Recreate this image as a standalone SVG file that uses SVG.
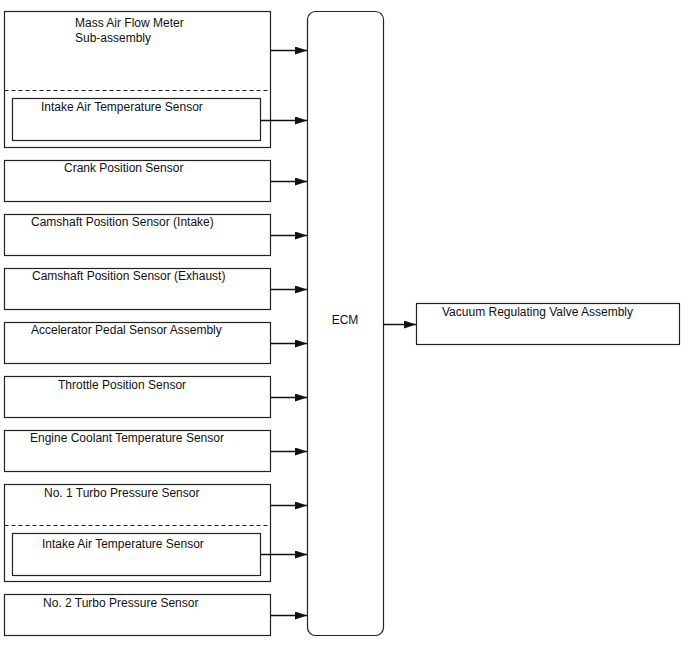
<svg xmlns="http://www.w3.org/2000/svg" width="688" height="658" viewBox="0 0 688 658">
<defs>
<style>
.box{fill:#fff;stroke:#222;stroke-width:1.2}
.dash{stroke:#222;stroke-width:1.2;stroke-dasharray:4,3;fill:none}
.t{font-family:"Liberation Sans",Arial,sans-serif;font-size:12px;fill:#111}
.c{stroke:#111;stroke-width:1.3;fill:none;marker-end:url(#ah)}
</style>
<marker id="ah" viewBox="0 0 12 8" refX="12" refY="4" markerWidth="12" markerHeight="8" markerUnits="userSpaceOnUse" orient="auto">
<path d="M0,0 L12,4 L0,8 z" fill="#111"/>
</marker>
</defs>
<rect width="688" height="658" fill="#fff"/>
<g id="maf">
<rect class="box" x="4.5" y="11.5" width="266" height="136"/>
<line class="dash" x1="4.5" y1="90.5" x2="270.5" y2="90.5"/>
<text class="t" x="75" y="27">Mass Air Flow Meter</text>
<text class="t" x="75" y="42">Sub-assembly</text>
</g>
<g id="iat1">
<rect class="box" x="12.5" y="98.5" width="248" height="42"/>
<text class="t" x="41" y="111">Intake Air Temperature Sensor</text>
</g>
<g id="crank">
<rect class="box" x="4.5" y="160.5" width="266" height="41"/>
<text class="t" x="64" y="172">Crank Position Sensor</text>
</g>
<g id="cam-in">
<rect class="box" x="4.5" y="214.5" width="266" height="41"/>
<text class="t" x="31" y="226">Camshaft Position Sensor (Intake)</text>
</g>
<g id="cam-ex">
<rect class="box" x="4.5" y="268.5" width="266" height="41"/>
<text class="t" x="32" y="280">Camshaft Position Sensor (Exhaust)</text>
</g>
<g id="accel">
<rect class="box" x="4.5" y="322.5" width="266" height="41"/>
<text class="t" x="31" y="334">Accelerator Pedal Sensor Assembly</text>
</g>
<g id="throttle">
<rect class="box" x="4.5" y="376.5" width="266" height="41"/>
<text class="t" x="58" y="389">Throttle Position Sensor</text>
</g>
<g id="ect">
<rect class="box" x="4.5" y="430.5" width="266" height="41"/>
<text class="t" x="30" y="442">Engine Coolant Temperature Sensor</text>
</g>
<g id="turbo1">
<rect class="box" x="4.5" y="484.5" width="266" height="97"/>
<line class="dash" x1="4.5" y1="525.5" x2="270.5" y2="525.5"/>
<text class="t" x="44" y="497">No. 1 Turbo Pressure Sensor</text>
</g>
<g id="iat2">
<rect class="box" x="12.5" y="533.5" width="248" height="42"/>
<text class="t" x="42" y="548">Intake Air Temperature Sensor</text>
</g>
<g id="turbo2">
<rect class="box" x="4.5" y="594.5" width="266" height="41"/>
<text class="t" x="43" y="607">No. 2 Turbo Pressure Sensor</text>
</g>
<g id="ecm">
<rect class="box" x="307.5" y="11.5" width="76" height="624" rx="8" ry="8"/>
<text class="t" x="345" y="324" text-anchor="middle">ECM</text>
</g>
<g id="vrv">
<rect class="box" x="416.5" y="303.5" width="263" height="41"/>
<text class="t" x="442" y="316">Vacuum Regulating Valve Assembly</text>
</g>
<g id="connectors">
<line class="c" x1="270.5" y1="50.5" x2="307" y2="50.5"/>
<line class="c" x1="260.5" y1="120.5" x2="307" y2="120.5"/>
<line class="c" x1="270.5" y1="181.5" x2="307" y2="181.5"/>
<line class="c" x1="270.5" y1="235.5" x2="307" y2="235.5"/>
<line class="c" x1="270.5" y1="289.5" x2="307" y2="289.5"/>
<line class="c" x1="270.5" y1="343.5" x2="307" y2="343.5"/>
<line class="c" x1="270.5" y1="397.5" x2="307" y2="397.5"/>
<line class="c" x1="270.5" y1="451.5" x2="307" y2="451.5"/>
<line class="c" x1="270.5" y1="505.5" x2="307" y2="505.5"/>
<line class="c" x1="260.5" y1="554.5" x2="307" y2="554.5"/>
<line class="c" x1="270.5" y1="615.5" x2="307" y2="615.5"/>
<line class="c" x1="383.5" y1="324.5" x2="416" y2="324.5"/>
</g>
</svg>
